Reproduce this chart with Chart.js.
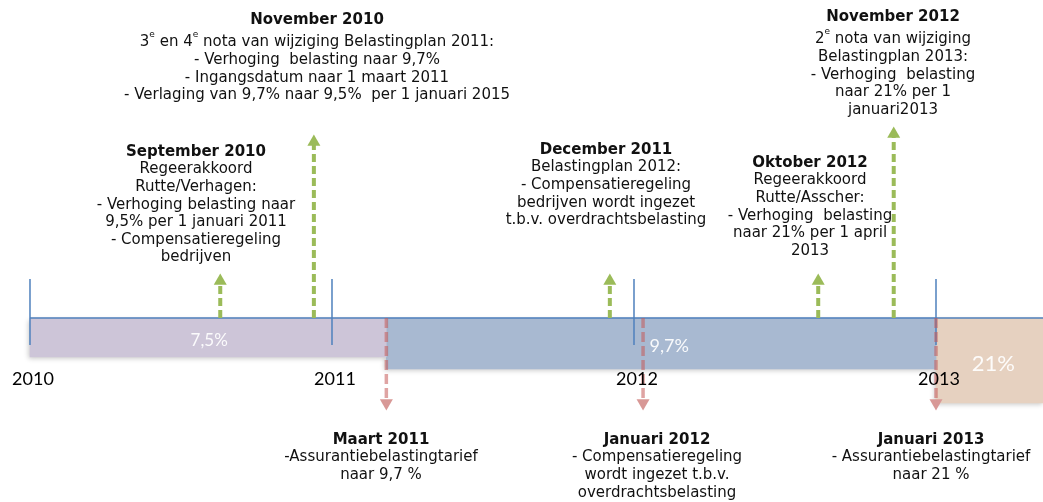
<!DOCTYPE html>
<html>
<head>
<meta charset="utf-8">
<script src="https://cdn.jsdelivr.net/npm/chart.js@4/dist/chart.umd.min.js"></script>
<style>
  body { margin: 0; background: #fff; }
  #timeline { display: block; }
</style>
</head>
<body>
<canvas id="timeline" width="1043" height="502"></canvas>
<script>
// time axis in decimal years
const years = [2010, 2011, 2012, 2013];

// tariff periods (bars under the line)
const periodLabels = ['7,5%', '9,7%', '21%'];
const periodStart = [2010, 2011.18, 2013.0];
const periodEnd = [2011.18, 2013.0, 2013.36];
const periodDepth = [39, 51, 85];

// announcements (green arrows up)
const upDates = [2010.63, 2010.94, 2011.92, 2012.61, 2012.86];
const upHeights = [37, 176, 37, 37, 184];
const upTitles = ['September 2010', 'November 2010', 'December 2011', 'Oktober 2012', 'November 2012'];
const upTexts = [
    ['Regeerakkoord', 'Rutte/Verhagen:', '- Verhoging belasting naar', '9,5% per 1 januari 2011', '- Compensatieregeling', 'bedrijven'],
    ['3^e en 4^e nota van wijziging Belastingplan 2011:', '- Verhoging  belasting naar 9,7%', '- Ingangsdatum naar 1 maart 2011', '- Verlaging van 9,7% naar 9,5%  per 1 januari 2015'],
    ['Belastingplan 2012:', '- Compensatieregeling', 'bedrijven wordt ingezet', 't.b.v. overdrachtsbelasting'],
    ['Regeerakkoord', 'Rutte/Asscher:', '- Verhoging  belasting', 'naar 21% per 1 april', '2013'],
    ['2^e nota van wijziging', 'Belastingplan 2013:', '- Verhoging  belasting', 'naar 21% per 1', 'januari2013']
];

// changes in effect (red arrows down)
const downDates = [2011.18, 2012.03, 2013.0];
const downDepths = [85, 85, 85];
const downTitles = ['Maart 2011', 'Januari 2012', 'Januari 2013'];
const downTexts = [
    ['-Assurantiebelastingtarief', 'naar 9,7 %'],
    ['- Compensatieregeling', 'wordt ingezet t.b.v.', 'overdrachtsbelasting'],
    ['- Assurantiebelastingtarief', 'naar 21 %']
];

// layout (pixels) for the text blocks: centre x, y of first line
const upNotePos = [[196, 152], [317, 20], [606, 150], [810, 163], [893, 17]];
const downNotePos = [[381, 440], [657, 440], [931, 440]];
const lineH = 17.6;
const supExtra = 5;

const periodColors = ['#cdc5d8', '#a8b9d1', '#e6d1c0'];
const labelSizes = [17, 18, 22];
const labelShift = [[1, 3], [8, 3], [3, 3]];
const green = '#9bbb59';
const red = 'rgba(196,90,88,0.55)';
const redHead = '#d89896';
const blue = '#4f81bd';

const datasets = [];

periodLabels.forEach((lab, i) => {
    datasets.push({
        type: 'bar',
        indexAxis: 'y',
        label: lab,
        data: [{ x: [periodStart[i], periodEnd[i]], y: -periodDepth[i] / 2 }],
        barThickness: periodDepth[i],
        grouped: false,
        backgroundColor: periodColors[i],
        borderWidth: 0,
        order: 10
    });
});

// year ticks, broken with nulls
const tickPts = [];
years.forEach(y => {
    tickPts.push({ x: y, y: -27 }, { x: y, y: 39 }, { x: y, y: null });
});
datasets.push({
    type: 'line', label: 'ticks', data: tickPts, spanGaps: false,
    borderColor: blue, borderWidth: 1.5, pointRadius: 0, order: 5
});
datasets.push({
    type: 'line', label: 'axis',
    data: [{ x: years[0], y: 0 }, { x: 2013.36, y: 0 }],
    borderColor: blue, borderWidth: 1.5, pointRadius: 0, order: 5
});

upDates.forEach((d, i) => {
    datasets.push({
        type: 'line', label: upTitles[i],
        data: [{ x: d, y: 0 }, { x: d, y: upHeights[i] }],
        borderColor: green, borderWidth: 4, borderDash: [8, 4],
        pointRadius: [0, 7.5], pointStyle: 'triangle', pointRotation: 0,
        pointBackgroundColor: green, pointBorderWidth: 0, order: 1
    });
});

downDates.forEach((d, i) => {
    datasets.push({
        type: 'line', label: downTitles[i],
        data: [{ x: d, y: 0 }, { x: d, y: -downDepths[i] }],
        borderColor: red, borderWidth: 3.5, borderDash: [10, 4],
        pointRadius: [0, 7.5], pointStyle: 'triangle', pointRotation: 180,
        pointBackgroundColor: redHead, pointBorderWidth: 0, order: 1
    });
});

const NOTE_FONT = '15px "DejaVu Sans", Verdana, sans-serif';
const NOTE_BOLD = 'bold 15px "DejaVu Sans", Verdana, sans-serif';
const SUP_FONT = '9px "DejaVu Sans", Verdana, sans-serif';

// draw a centred line that may contain ^x superscripts
function drawRich(ctx, text, cx, cy) {
    const parts = text.split(/\^(\w)/);
    let total = 0;
    const widths = parts.map((p, k) => {
        ctx.font = k % 2 ? SUP_FONT : NOTE_FONT;
        const w = ctx.measureText(p).width;
        total += w;
        return w;
    });
    let x = cx - total / 2;
    parts.forEach((p, k) => {
        ctx.font = k % 2 ? SUP_FONT : NOTE_FONT;
        ctx.fillText(p, x, k % 2 ? cy - 8 : cy);
        x += widths[k];
    });
}

function drawNote(ctx, title, lines, pos) {
    let [cx, cy] = pos;
    ctx.textBaseline = 'middle';
    ctx.textAlign = 'left';
    ctx.fillStyle = '#111';
    ctx.font = NOTE_BOLD;
    const tw = ctx.measureText(title).width;
    ctx.fillText(title, cx - tw / 2, cy);
    lines.forEach(line => {
        cy += lineH + (line.includes('^') ? supExtra : 0);
        drawRich(ctx, line, cx, cy);
    });
}

// soft shadow under the period bars
const barShadow = {
    id: 'barShadow',
    beforeDatasetDraw(chart, args) {
        if (args.index < periodLabels.length) {
            const ctx = chart.ctx;
            ctx.save();
            ctx.shadowColor = 'rgba(0,0,0,0.22)';
            ctx.shadowBlur = 5;
            ctx.shadowOffsetX = -2;
            ctx.shadowOffsetY = 2;
        }
    },
    afterDatasetDraw(chart, args) {
        if (args.index < periodLabels.length) chart.ctx.restore();
    }
};

const textPlugin = {
    id: 'timelineText',
    afterDatasetsDraw(chart) {
        const ctx = chart.ctx;
        const xs = chart.scales.x, ys = chart.scales.y;
        ctx.save();

        // tariff labels inside the bars
        periodLabels.forEach((lab, i) => {
            const el = chart.getDatasetMeta(i).data[0];
            const cx = (el.x + el.base) / 2 + labelShift[i][0];
            ctx.font = labelSizes[i] + 'px Lato, "Open Sans", sans-serif';
            ctx.fillStyle = 'rgba(255,255,255,0.92)';
            ctx.textAlign = 'center';
            ctx.textBaseline = 'middle';
            ctx.fillText(lab, cx, el.y + labelShift[i][1]);
        });

        // year labels
        ctx.font = '18px Lato, "Open Sans", sans-serif';
        ctx.fillStyle = '#000';
        years.forEach(y => {
            ctx.fillText(String(y), xs.getPixelForValue(y) + 3, ys.getPixelForValue(-61));
        });

        upTitles.forEach((t, i) => drawNote(ctx, t, upTexts[i], upNotePos[i]));
        downTitles.forEach((t, i) => drawNote(ctx, t, downTexts[i], downNotePos[i]));
        ctx.restore();
    }
};

new Chart(document.getElementById('timeline'), {
    type: 'bar',
    data: { datasets: datasets },
    options: {
        responsive: false,
        animation: false,
        events: [],
        layout: { padding: 0, autoPadding: false },
        plugins: { legend: { display: false }, tooltip: { enabled: false } },
        scales: {
            x: { type: 'linear', min: 2009.9007, max: 2013.3543, offset: false, display: false },
            y: { type: 'linear', min: -184, max: 318, offset: false, display: false }
        }
    },
    plugins: [barShadow, textPlugin]
});
</script>
</body>
</html>
